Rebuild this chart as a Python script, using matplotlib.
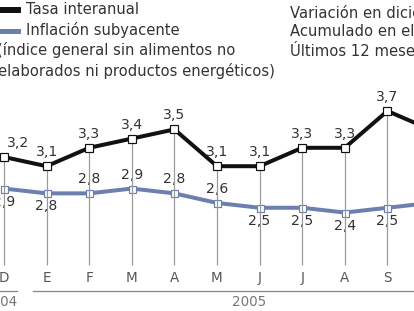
import matplotlib
matplotlib.use("Agg")
import matplotlib.pyplot as plt
import matplotlib.transforms as mtransforms

months = ["D", "E", "F", "M", "A", "M", "J", "J", "A", "S", "O"]
tasa = [3.2, 3.1, 3.3, 3.4, 3.5, 3.1, 3.1, 3.3, 3.3, 3.7, 3.5]
subyacente = [2.9, 2.8, 2.8, 2.9, 2.8, 2.6, 2.5, 2.5, 2.4, 2.5, 2.6]
tasa_pos = ["above"] * 11
sub_pos = ["below", "below", "above", "above", "above", "above",
           "below", "below", "below", "below", "above"]
years = ["2004", "2005"]
legend_items = ["Tasa interanual", "Inflación subyacente"]
legend_note = ["(índice general sin alimentos no",
               "elaborados ni productos energéticos)"]
right_notes = ["Variación en diciembre", "Acumulado en el año",
               "Últimos 12 meses"]

W, H = 414, 311
fig = plt.figure(figsize=(W / 72, H / 72), dpi=72)
ax = fig.add_axes([0, 0, 1, 1])
ax.set_axis_off()
ax2 = ax.twinx()
ax2.set_axis_off()

BLACK = "#111111"
BLUE = "#6c80b0"
GREY = "#999999"
TXT = "#333333"
FONT = "DejaVu Sans"
LEG_FS = 14.8

x = list(range(len(months)))
ax.set_xlim(-4 / 42.6, (W - 4) / 42.6)
ax2.set_xlim(ax.get_xlim())
ax.set_ylim(3.2 - (H - 157) / 92, 3.2 + 157 / 92)
ax2.set_ylim(2.67 - (H - 199.6) / 48, 2.67 + 199.6 / 48)

# vertical drop lines from the black points to the baseline
bottom = 3.2 - (265 - 157) / 92
ax.vlines(x, bottom, tasa, color=GREY, lw=1.2, zorder=1)

ax2.plot(x, subyacente, color=BLUE, lw=4, marker="s", ms=7,
         mfc="white", mec=BLUE, mew=1.2, zorder=3, clip_on=False)
ax.plot(x, tasa, color=BLACK, lw=4, marker="s", ms=8,
        mfc="white", mec=BLACK, mew=1.2, zorder=4, clip_on=False)
ax.set_zorder(2)
ax2.set_zorder(1)
ax.patch.set_visible(False)

for i, (v, p) in enumerate(zip(tasa, tasa_pos)):
    dx = 14 if i == 0 else 0
    ax.annotate(f"{v:.1f}".replace(".", ","), (i, v), xytext=(dx, 7),
                textcoords="offset points", ha="center", va="bottom",
                fontsize=14, color=TXT, family=FONT)
for i, (v, p) in enumerate(zip(subyacente, sub_pos)):
    dy = 7 if p == "above" else -6
    va = "bottom" if p == "above" else "top"
    ax2.annotate(f"{v:.1f}".replace(".", ","), (i, v), xytext=(0, dy),
                 textcoords="offset points", ha="center", va=va,
                 fontsize=14, color=TXT, family=FONT)

trans = mtransforms.blended_transform_factory(ax.transData, ax.transAxes)
for i, m in enumerate(months):
    ax.text(i, 1 - 278 / H, m, transform=trans, ha="center", va="center",
            fontsize=13.5, color="#555555", family=FONT)

# year lines and labels
ax.plot([-0.5, 0.3], [1 - 291 / H] * 2, transform=trans, color="#888888",
        lw=1.3, clip_on=False)
ax.plot([0.68, 11], [1 - 291 / H] * 2, transform=trans, color="#888888",
        lw=1.3, clip_on=False)
ax.text(0.3, 1 - 302 / H, years[0], transform=trans, ha="right", va="center",
        fontsize=13.5, color="#777777", family=FONT)
ax.text(5.75, 1 - 302 / H, years[1], transform=trans, ha="center",
        va="center", fontsize=13.5, color="#777777", family=FONT)

# legend
fig.patches.append(plt.Rectangle((-2 / W, 1 - 12 / H), 22 / W, 5 / H,
                                 transform=fig.transFigure, color=BLACK))
fig.patches.append(plt.Rectangle((-2 / W, 1 - 33 / H), 22 / W, 4 / H,
                                 transform=fig.transFigure, color=BLUE))
fig.text(26 / W, 1 - 10 / H, legend_items[0], ha="left", va="center",
         fontsize=LEG_FS, color=TXT, family=FONT)
fig.text(26 / W, 1 - 30 / H, legend_items[1], ha="left", va="center",
         fontsize=LEG_FS, color=TXT, family=FONT)
fig.text(-3 / W, 1 - 50 / H, legend_note[0], ha="left", va="center",
         fontsize=LEG_FS, color=TXT, family=FONT)
fig.text(-2 / W, 1 - 71 / H, legend_note[1], ha="left", va="center",
         fontsize=LEG_FS, color=TXT, family=FONT)
for k, t in enumerate(right_notes):
    fig.text(290 / W, 1 - (13 + k * 19) / H, t, ha="left", va="center",
             fontsize=LEG_FS, color=TXT, family=FONT)

fig.savefig("out.png", dpi=72, facecolor="white")
